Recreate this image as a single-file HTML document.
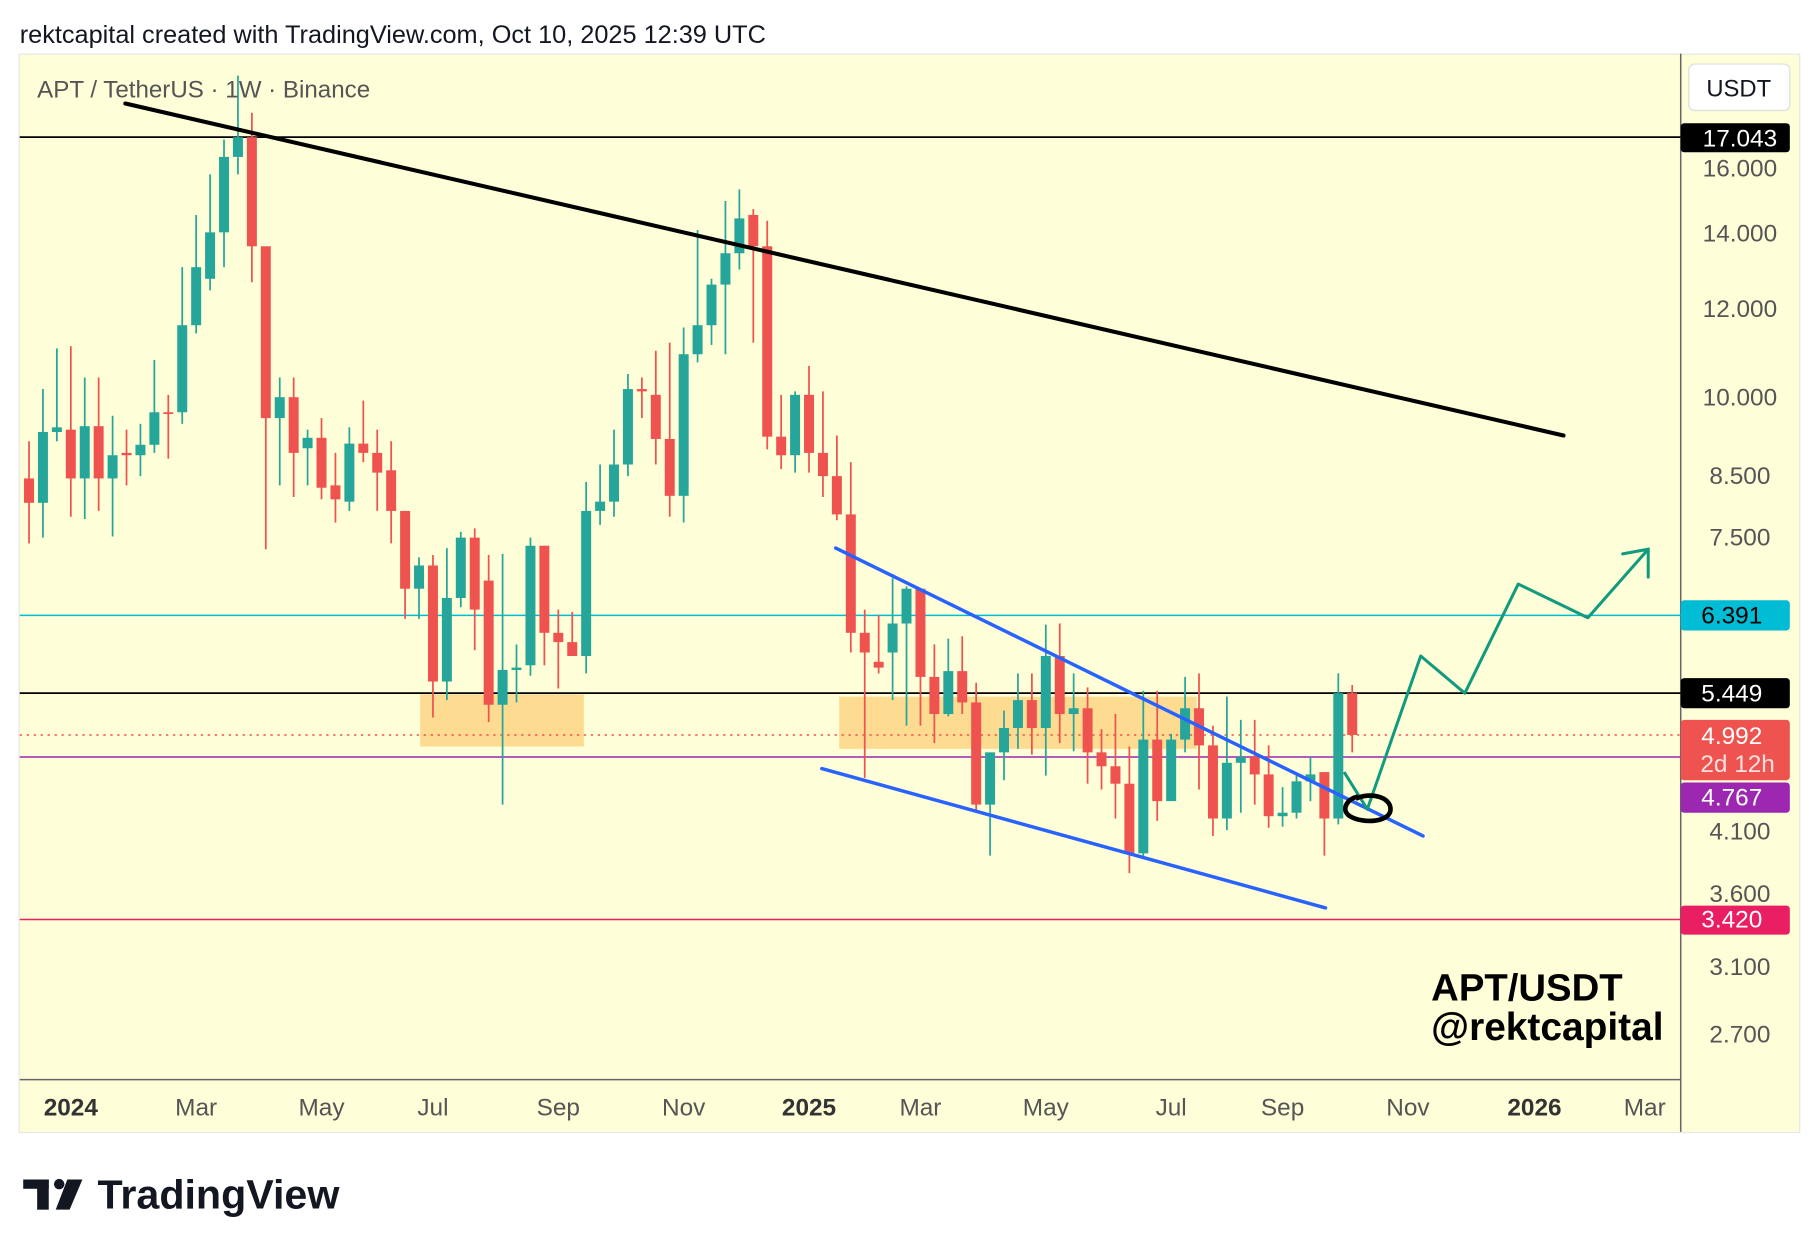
<!DOCTYPE html>
<html><head><meta charset="utf-8"><style>
html,body{margin:0;padding:0;background:#fff;}
svg{display:block;font-family:"Liberation Sans",sans-serif;}
</style></head><body>
<svg id="c" width="1820" height="1254" viewBox="0 0 1568 1080" xmlns="http://www.w3.org/2000/svg">
<rect x="0" y="0" width="1568" height="1080" fill="#fff"/>
<text x="17" y="37" font-size="21.8" fill="#131722">rektcapital created with TradingView.com, Oct 10, 2025 12:39 UTC</text>
<rect x="16.5" y="46.5" width="1534" height="929" fill="#fefed8" stroke="#e6e6e6"/>
<line x1="1448" y1="46" x2="1448" y2="975" stroke="#666" stroke-width="1.3"/>
<line x1="17" y1="930" x2="1448" y2="930" stroke="#666" stroke-width="1.3"/>
<rect x="362" y="598" width="141" height="45" fill="#fddc92"/>
<rect x="723" y="600" width="308" height="45" fill="#fddc92"/>
<line x1="17" y1="118" x2="1448" y2="118" stroke="#000" stroke-width="1.5"/>
<line x1="17" y1="530" x2="1448" y2="530" stroke="#00bcd4" stroke-width="1.3"/>
<line x1="17" y1="597" x2="1448" y2="597" stroke="#000" stroke-width="1.5"/>
<line x1="17" y1="633" x2="1448" y2="633" stroke="#ef5350" stroke-width="1.3" stroke-dasharray="2 4"/>
<line x1="17" y1="652" x2="1448" y2="652" stroke="#9c27b0" stroke-width="1.3"/>
<line x1="17" y1="792" x2="1448" y2="792" stroke="#e91e63" stroke-width="1.3"/>
<g id="candles"></g>
<text x="32" y="84" font-size="20.8" fill="#555">APT / TetherUS · 1W · Binance</text>
<line x1="108" y1="89" x2="1347" y2="375" stroke="#000" stroke-width="3.5" stroke-linecap="round"/>
<line x1="720" y1="472" x2="1226" y2="720" stroke="#2962ff" stroke-width="3" stroke-linecap="round"/>
<line x1="708" y1="662" x2="1142" y2="782" stroke="#2962ff" stroke-width="3" stroke-linecap="round"/>
<polyline points="1158,665 1178,697 1224,565 1262,597 1308,503 1368,532 1420,473" fill="none" stroke="#129a7e" stroke-width="2.6" stroke-linejoin="round"/>
<polyline points="1398,477 1420,473 1420,497" fill="none" stroke="#129a7e" stroke-width="2.6" stroke-linecap="round"/>
<path d="M1168,688 C1180,682 1198,686 1198,697 C1198,708 1175,710 1163,703 C1155,698 1160,688 1170,686" fill="none" stroke="#000" stroke-width="4"/>
<text x="1233" y="862" font-size="33" font-weight="bold" fill="#000">APT/USDT</text>
<text x="1233" y="896" font-size="33.5" font-weight="bold" fill="#000">@rektcapital</text>
<rect x="1455" y="55" width="87" height="40" rx="5" fill="#fff" stroke="#ddd"/>
<text x="1498" y="83" font-size="20.5" fill="#131722" text-anchor="middle">USDT</text>
<g font-size="21" fill="#555" text-anchor="middle">
<text x="1499" y="152">16.000</text><text x="1499" y="208">14.000</text><text x="1499" y="273">12.000</text>
<text x="1499" y="349">10.000</text><text x="1499" y="417">8.500</text><text x="1499" y="470">7.500</text>
<text x="1499" y="723">4.100</text><text x="1499" y="777">3.600</text><text x="1499" y="840">3.100</text><text x="1499" y="898">2.700</text>
</g>
<rect x="1448" y="106" width="94" height="25" rx="3" fill="#000"/>
<text x="1499" y="126" font-size="21" fill="#fff" text-anchor="middle">17.043</text>
<rect x="1448" y="517" width="94" height="26" rx="3" fill="#00bcd4"/>
<text x="1492" y="537" font-size="21" fill="#000" text-anchor="middle">6.391</text>
<rect x="1448" y="584" width="94" height="26" rx="3" fill="#000"/>
<text x="1492" y="604" font-size="21" fill="#fff" text-anchor="middle">5.449</text>
<rect x="1448" y="620" width="94" height="52" rx="3" fill="#ef5350"/>
<text x="1492" y="641" font-size="21" fill="#fff" text-anchor="middle">4.992</text>
<text x="1497" y="665" font-size="21" fill="#fde0df" text-anchor="middle">2d 12h</text>
<rect x="1448" y="674" width="94" height="26" rx="3" fill="#9c27b0"/>
<text x="1492" y="694" font-size="21" fill="#fff" text-anchor="middle">4.767</text>
<rect x="1448" y="780" width="94" height="25" rx="3" fill="#e91e63"/>
<text x="1492" y="799" font-size="21" fill="#fff" text-anchor="middle">3.420</text>
<g font-size="21" fill="#555" text-anchor="middle">
<text x="61" y="961" font-weight="bold" fill="#333">2024</text><text x="169" y="961">Mar</text><text x="277" y="961">May</text>
<text x="373" y="961">Jul</text><text x="481" y="961">Sep</text><text x="589" y="961">Nov</text>
<text x="697" y="961" font-weight="bold" fill="#333">2025</text><text x="793" y="961">Mar</text><text x="901" y="961">May</text>
<text x="1009" y="961">Jul</text><text x="1105" y="961">Sep</text><text x="1213" y="961">Nov</text>
<text x="1322" y="961" font-weight="bold" fill="#333">2026</text><text x="1417" y="961">Mar</text>
</g>
<g fill="#131722">
<rect x="20" y="1016" width="22" height="8"/><rect x="32" y="1016" width="10" height="26"/>
<circle cx="51" cy="1020" r="4.5"/>
<polygon points="58,1016 71,1016 60,1042 48,1042"/>
</g>
<text x="84" y="1041" font-size="35.5" font-weight="bold" fill="#131722">TradingView</text>
</svg>
<script>
var d=[[412,433,380,468],[433,372,335,463],[372,368,300,380],[370,412,298,445],[412,367,325,447],[367,412,325,440],[412,392,358,462],[390,392,370,418],[392,383,365,410],[383,355,310,390],[355,356,340,395],[355,280,230,365],[280,230,185,287],[240,200,150,250],[200,135,120,230],[135,118,65,150],[118,212,97,243],[212,360,240,473],[360,342,325,418],[342,390,325,428],[386,377,370,418],[377,420,360,430],[418,430,390,450],[432,382,368,440],[382,390,345,398],[390,407,370,440],[405,440,380,468],[440,507,440,533],[507,487,480,533],[487,587,478,618],[587,515,472,603],[515,463,458,523],[463,525,455,560],[500,607,478,622],[607,577,477,693],[577,575,555,605],[573,470,463,582],[470,545,470,573],[545,553,525,593],[553,565,527,565],[565,440,415,580],[440,432,400,452],[432,400,370,445],[400,335,322,410],[335,337,325,360],[340,378,302,400],[378,427,295,445],[427,305,282,450],[305,280,198,312],[280,245,240,297],[245,218,173,305],[218,188,163,232],[185,212,180,295],[212,376,190,387],[376,392,340,404],[392,340,337,407],[340,390,315,407],[390,410,337,428],[410,443,375,448],[443,545,398,562],[545,562,525,670],[570,575,530,580],[562,537,498,603],[537,507,505,625],[507,583,507,625],[583,615,555,640],[615,578,550,617],[578,605,548,615],[605,693,588,700],[693,648,648,737],[648,627,612,672],[627,603,580,645],[603,627,580,650],[627,565,538,668],[565,615,537,640],[615,610,580,647],[610,648,592,675],[648,660,628,680],[660,675,615,705],[675,735,643,752],[735,637,595,740],[637,690,595,707],[690,637,632,685],[637,610,583,648],[610,642,580,680],[642,705,625,720],[705,657,600,715],[657,652,620,700],[652,667,620,693],[667,703,642,713],[703,700,678,712],[700,673,668,705],[673,667,652,690],[665,705,665,737],[705,597,580,710],[597,633,590,648]];
var g=document.getElementById('candles'),s='';
for(var i=0;i<d.length;i++){var x=25+i*12.0,o=d[i][0],c=d[i][1],h=d[i][2],l=d[i][3];
var col=c<o?'#26a69a':'#ef5350';var t=Math.min(o,c),b=Math.max(Math.abs(o-c),1.5);
s+='<line x1="'+x+'" y1="'+h+'" x2="'+x+'" y2="'+l+'" stroke="'+col+'" stroke-width="1.5"/>';
s+='<rect x="'+(x-4.3)+'" y="'+t+'" width="8.6" height="'+b+'" fill="'+col+'"/>';}
g.innerHTML=s;
</script>
</body></html>
